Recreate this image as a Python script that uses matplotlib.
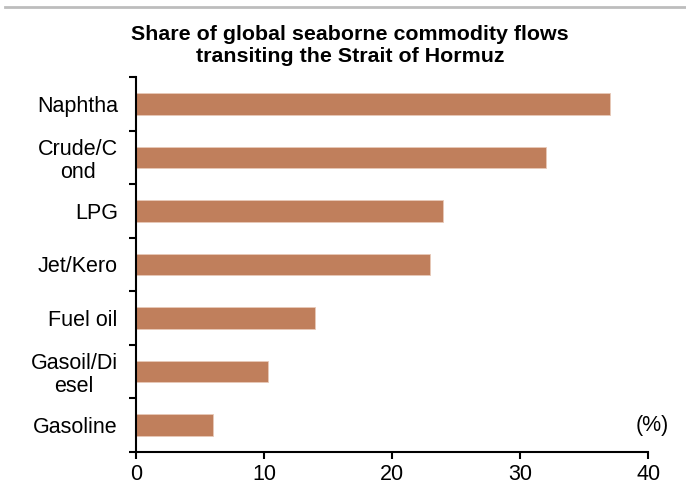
import numpy as np
import matplotlib
matplotlib.use("Agg")
import matplotlib.pyplot as plt
from matplotlib.lines import Line2D

plt.rcParams["font.family"] = ["Liberation Sans", "DejaVu Sans"]

# data, top to bottom as shown
categories = ["Naphtha", "Crude/C\nond", "LPG", "Jet/Kero", "Fuel oil", "Gasoil/Di\nesel", "Gasoline"]
shares = [37.0, 32.0, 24.0, 23.0, 14.0, 10.3, 6.0]
x_ticks = [0, 10, 20, 30, 40]

BAR_COLOR = "#C07F5C"
FS = 15.5


def main():
    fig = plt.figure(figsize=(6.86, 4.88), dpi=100)
    ax = fig.add_axes([0.198, 0.074, 0.747, 0.768])

    n = len(categories)
    y = np.arange(n)[::-1]

    ax.barh(y, shares, height=0.4, color=BAR_COLOR,
            edgecolor="#E8C9B8", linewidth=0.6)

    ax.set_xlim(0, 40)
    ax.set_ylim(-0.5, n - 0.5)
    ax.set_xticks(x_ticks)
    ax.set_xticklabels([str(t) for t in x_ticks], fontsize=FS)

    ax.set_yticks(y)
    ax.set_yticklabels(categories, fontsize=FS, multialignment="center",
                       linespacing=1.15)
    ax.set_yticks(np.arange(n + 1) - 0.5, minor=True)
    ax.tick_params(axis="y", which="major", length=0, pad=13)
    ax.tick_params(axis="y", which="minor", length=5, width=1.5, direction="out")
    ax.tick_params(axis="x", length=5, width=1.5, direction="out", pad=4)

    for side in ["top", "right"]:
        ax.spines[side].set_visible(False)
    for side in ["left", "bottom"]:
        ax.spines[side].set_linewidth(1.5)

    ax.text(1.041, y[-1], "(%)", transform=ax.get_yaxis_transform(),
            ha="right", va="center", fontsize=FS, clip_on=False)

    fig.text(0.51, 0.948, "Share of global seaborne commodity flows\ntransiting the Strait of Hormuz",
             ha="center", va="top", fontsize=15.4, fontweight="bold", linespacing=1.2)

    # thin grey rule at the top
    fig.add_artist(Line2D([0.008, 1.0], [0.985, 0.985], transform=fig.transFigure,
                          color="#BDBDBD", linewidth=2))

    fig.savefig("out.png", dpi=100)
    plt.close(fig)


if __name__ == "__main__":
    main()
